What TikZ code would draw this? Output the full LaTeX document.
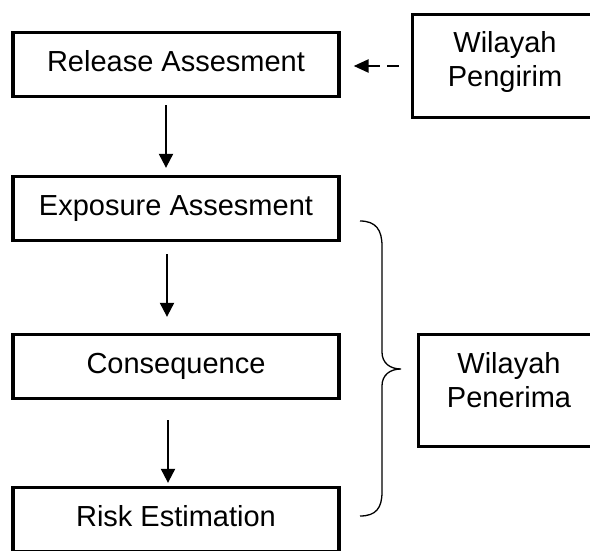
\documentclass[tikz,border=0pt]{standalone}
\usepackage{fontspec}
\setmainfont{Liberation Sans}
\usetikzlibrary{calc, arrows.meta}

\begin{document}
\begin{tikzpicture}[x=1pt, y=-1pt,
        every node/.style={font=\fontsize{29}{34}\selectfont},
        stepbox/.style={rectangle, draw=black, line width=3.3pt, minimum width=326pt, minimum height=64pt, text height=21pt, text depth=8pt, inner sep=0pt},
        areabox/.style={rectangle, draw=black, line width=3.3pt, align=center, inner sep=0pt},
        flow/.style={line width=2pt, -{Triangle[length=14pt, width=14pt]}},
        feed/.style={line width=2.4pt, dash pattern=on 12pt off 7pt, -{Triangle[length=15pt, width=13pt]}}]

        \useasboundingbox (0,0) rectangle (590,550);

        %% Steps
        \node (release) [stepbox] at (176,64.5) {Release Assesment};
        \node (exposure) [stepbox] at (176,208.5) {Exposure Assesment};
        \node (consequence) [stepbox] at (176,366.5) {Consequence};
        \node (risk) [stepbox] at (176,519.5) {Risk Estimation};

        %% Areas
        \node (pengirim) [areabox, minimum width=185pt, minimum height=103pt, text depth=14pt] at (505,66) {Wilayah\\Pengirim};
        \node (penerima) [areabox, minimum width=181pt, minimum height=112pt, text depth=22pt] at (509,390.5) {Wilayah\\Penerima};

        %% Arrows
        \draw [flow, shorten <=7pt, shorten >=7pt] ([xshift=-10pt]release.south) -- ([xshift=-10pt]exposure.north);
        \draw [flow, shorten <=12pt, shorten >=16pt] ([xshift=-9pt]exposure.south) -- ([xshift=-9pt]consequence.north);
        \draw [flow, shorten <=20pt, shorten >=3pt] ([xshift=-8pt]consequence.south) -- ([xshift=-8pt]risk.north);
        \draw [feed, shorten <=12pt, shorten >=13pt] (pengirim.west) -- (pengirim.west -| release.east);

        %% Brace
        \coordinate (bracetop) at (360,221);
        \coordinate (bracetip) at (401,369);
        \coordinate (bracebottom) at (360,516);
        \draw [line width=1.3pt] (bracetop) .. controls (376,221) and (382,230) .. (382,246) -- (382,352)
            .. controls (382,363) and (390,369) .. (bracetip)
            .. controls (390,369) and (382,375) .. (382,386) -- (382,492)
            .. controls (382,508) and (376,516) .. (bracebottom);

    \end{tikzpicture}
\end{document}
